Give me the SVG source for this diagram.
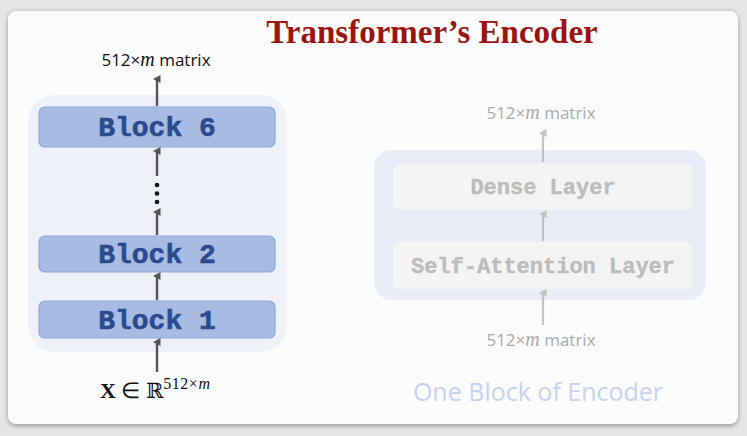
<svg xmlns="http://www.w3.org/2000/svg" width="747" height="436" viewBox="0 0 747 436">
<defs>
<filter id="sh" x="-5%" y="-5%" width="110%" height="110%"><feGaussianBlur stdDeviation="2.5"/></filter>
<marker id="ah" markerWidth="8" markerHeight="8" refX="4" refY="4" orient="auto" markerUnits="userSpaceOnUse"><path d="M0,7.5 L4,0 L8,7.5 Z" fill="#555"/></marker>
<marker id="ahl" markerWidth="8" markerHeight="8" refX="4" refY="4" orient="auto" markerUnits="userSpaceOnUse"><path d="M0,7.5 L4,0 L8,7.5 Z" fill="#c4c4c4"/></marker>
</defs>
<style>
.blk{fill:#a8bce3;stroke:#8fa7d9;stroke-width:1.2}
.bt{font-family:"Liberation Mono",monospace;font-weight:bold;font-size:28px;fill:#2c4b8c;stroke:#2c4b8c;stroke-width:0.6;text-anchor:middle}
.ly{fill:#f4f4f5}
.lt{font-family:"Liberation Mono",monospace;font-weight:bold;font-size:22px;fill:#bcbcbc;stroke:#bcbcbc;stroke-width:0.4;text-anchor:middle}
.c{stroke:#555;stroke-width:2.4;fill:none}
.cl{stroke:#c4c4c4;stroke-width:2.2;fill:none}
.lab{font-family:"Open Sans","DejaVu Sans",sans-serif;font-size:17px;fill:#111;text-anchor:middle}
.labl{font-family:"Open Sans","DejaVu Sans",sans-serif;font-size:17px;fill:#aaa;text-anchor:middle}
.m{font-family:"Liberation Serif",serif;font-style:italic}
</style>
<rect width="747" height="436" fill="#e6e6e6"/>
<rect x="8" y="12" width="730" height="414" rx="8" fill="#999" filter="url(#sh)"/>
<rect x="8" y="11" width="730" height="413" rx="8" fill="#fbfbfc"/>
<text x="432" y="43" font-family="Liberation Serif,serif" font-weight="bold" font-size="33" fill="#9b1414" text-anchor="middle">Transformer’s Encoder</text>
<g id="left-container"><rect x="28" y="95" width="259" height="257" rx="26" fill="#eef1f7"/></g>
<g id="block6"><rect class="blk" x="39" y="107" width="236" height="40" rx="6"/><text class="bt" x="157" y="136">Block 6</text></g>
<g id="block2"><rect class="blk" x="39" y="236" width="236" height="36" rx="6"/><text class="bt" x="157" y="263">Block 2</text></g>
<g id="block1"><rect class="blk" x="39" y="301" width="236" height="37" rx="6"/><text class="bt" x="157" y="329">Block 1</text></g>
<g id="dots" fill="#111"><circle cx="157" cy="185" r="2.3"/><circle cx="157" cy="193.5" r="2.3"/><circle cx="157" cy="202" r="2.3"/></g>
<g id="right-container"><rect x="374" y="150" width="332" height="150" rx="18" fill="#e8edf7"/></g>
<g id="dense"><rect class="ly" x="394" y="163" width="298" height="47" rx="6"/><text class="lt" x="543" y="194">Dense Layer</text></g>
<g id="selfatt"><rect class="ly" x="394" y="242" width="298" height="47" rx="6"/><text class="lt" x="543" y="273">Self-Attention Layer</text></g>
<g id="connectors">
<line class="c" x1="157" y1="106" x2="157" y2="79" marker-end="url(#ah)"/>
<line class="c" x1="157" y1="176" x2="157" y2="151" marker-end="url(#ah)"/>
<line class="c" x1="157" y1="235" x2="157" y2="212" marker-end="url(#ah)"/>
<line class="c" x1="157" y1="300" x2="157" y2="276" marker-end="url(#ah)"/>
<line class="c" x1="157" y1="372" x2="157" y2="342" marker-end="url(#ah)"/>
<line class="cl" x1="543" y1="162" x2="543" y2="133" marker-end="url(#ahl)"/>
<line class="cl" x1="543" y1="241" x2="543" y2="214" marker-end="url(#ahl)"/>
<line class="cl" x1="543" y1="325" x2="543" y2="293" marker-end="url(#ahl)"/>
</g>
<text class="lab" x="156" y="66">512×<tspan class="m" font-size="20">m</tspan> matrix</text>
<text x="100" y="398" font-family="Liberation Serif,serif" font-size="22" fill="#111"><tspan font-weight="bold">X</tspan> ∈ <tspan font-family="DejaVu Serif,serif" font-size="21">ℝ</tspan><tspan font-size="16" dy="-9" letter-spacing="0.5">512×<tspan font-style="italic">m</tspan></tspan></text>
<text class="labl" x="541" y="119">512×<tspan class="m" font-size="20">m</tspan> matrix</text>
<text class="labl" x="541" y="346">512×<tspan class="m" font-size="20">m</tspan> matrix</text>
<text x="538" y="401" font-family="Open Sans,DejaVu Sans,sans-serif" font-size="25" fill="#c6d3ec" text-anchor="middle">One Block of Encoder</text>
</svg>
